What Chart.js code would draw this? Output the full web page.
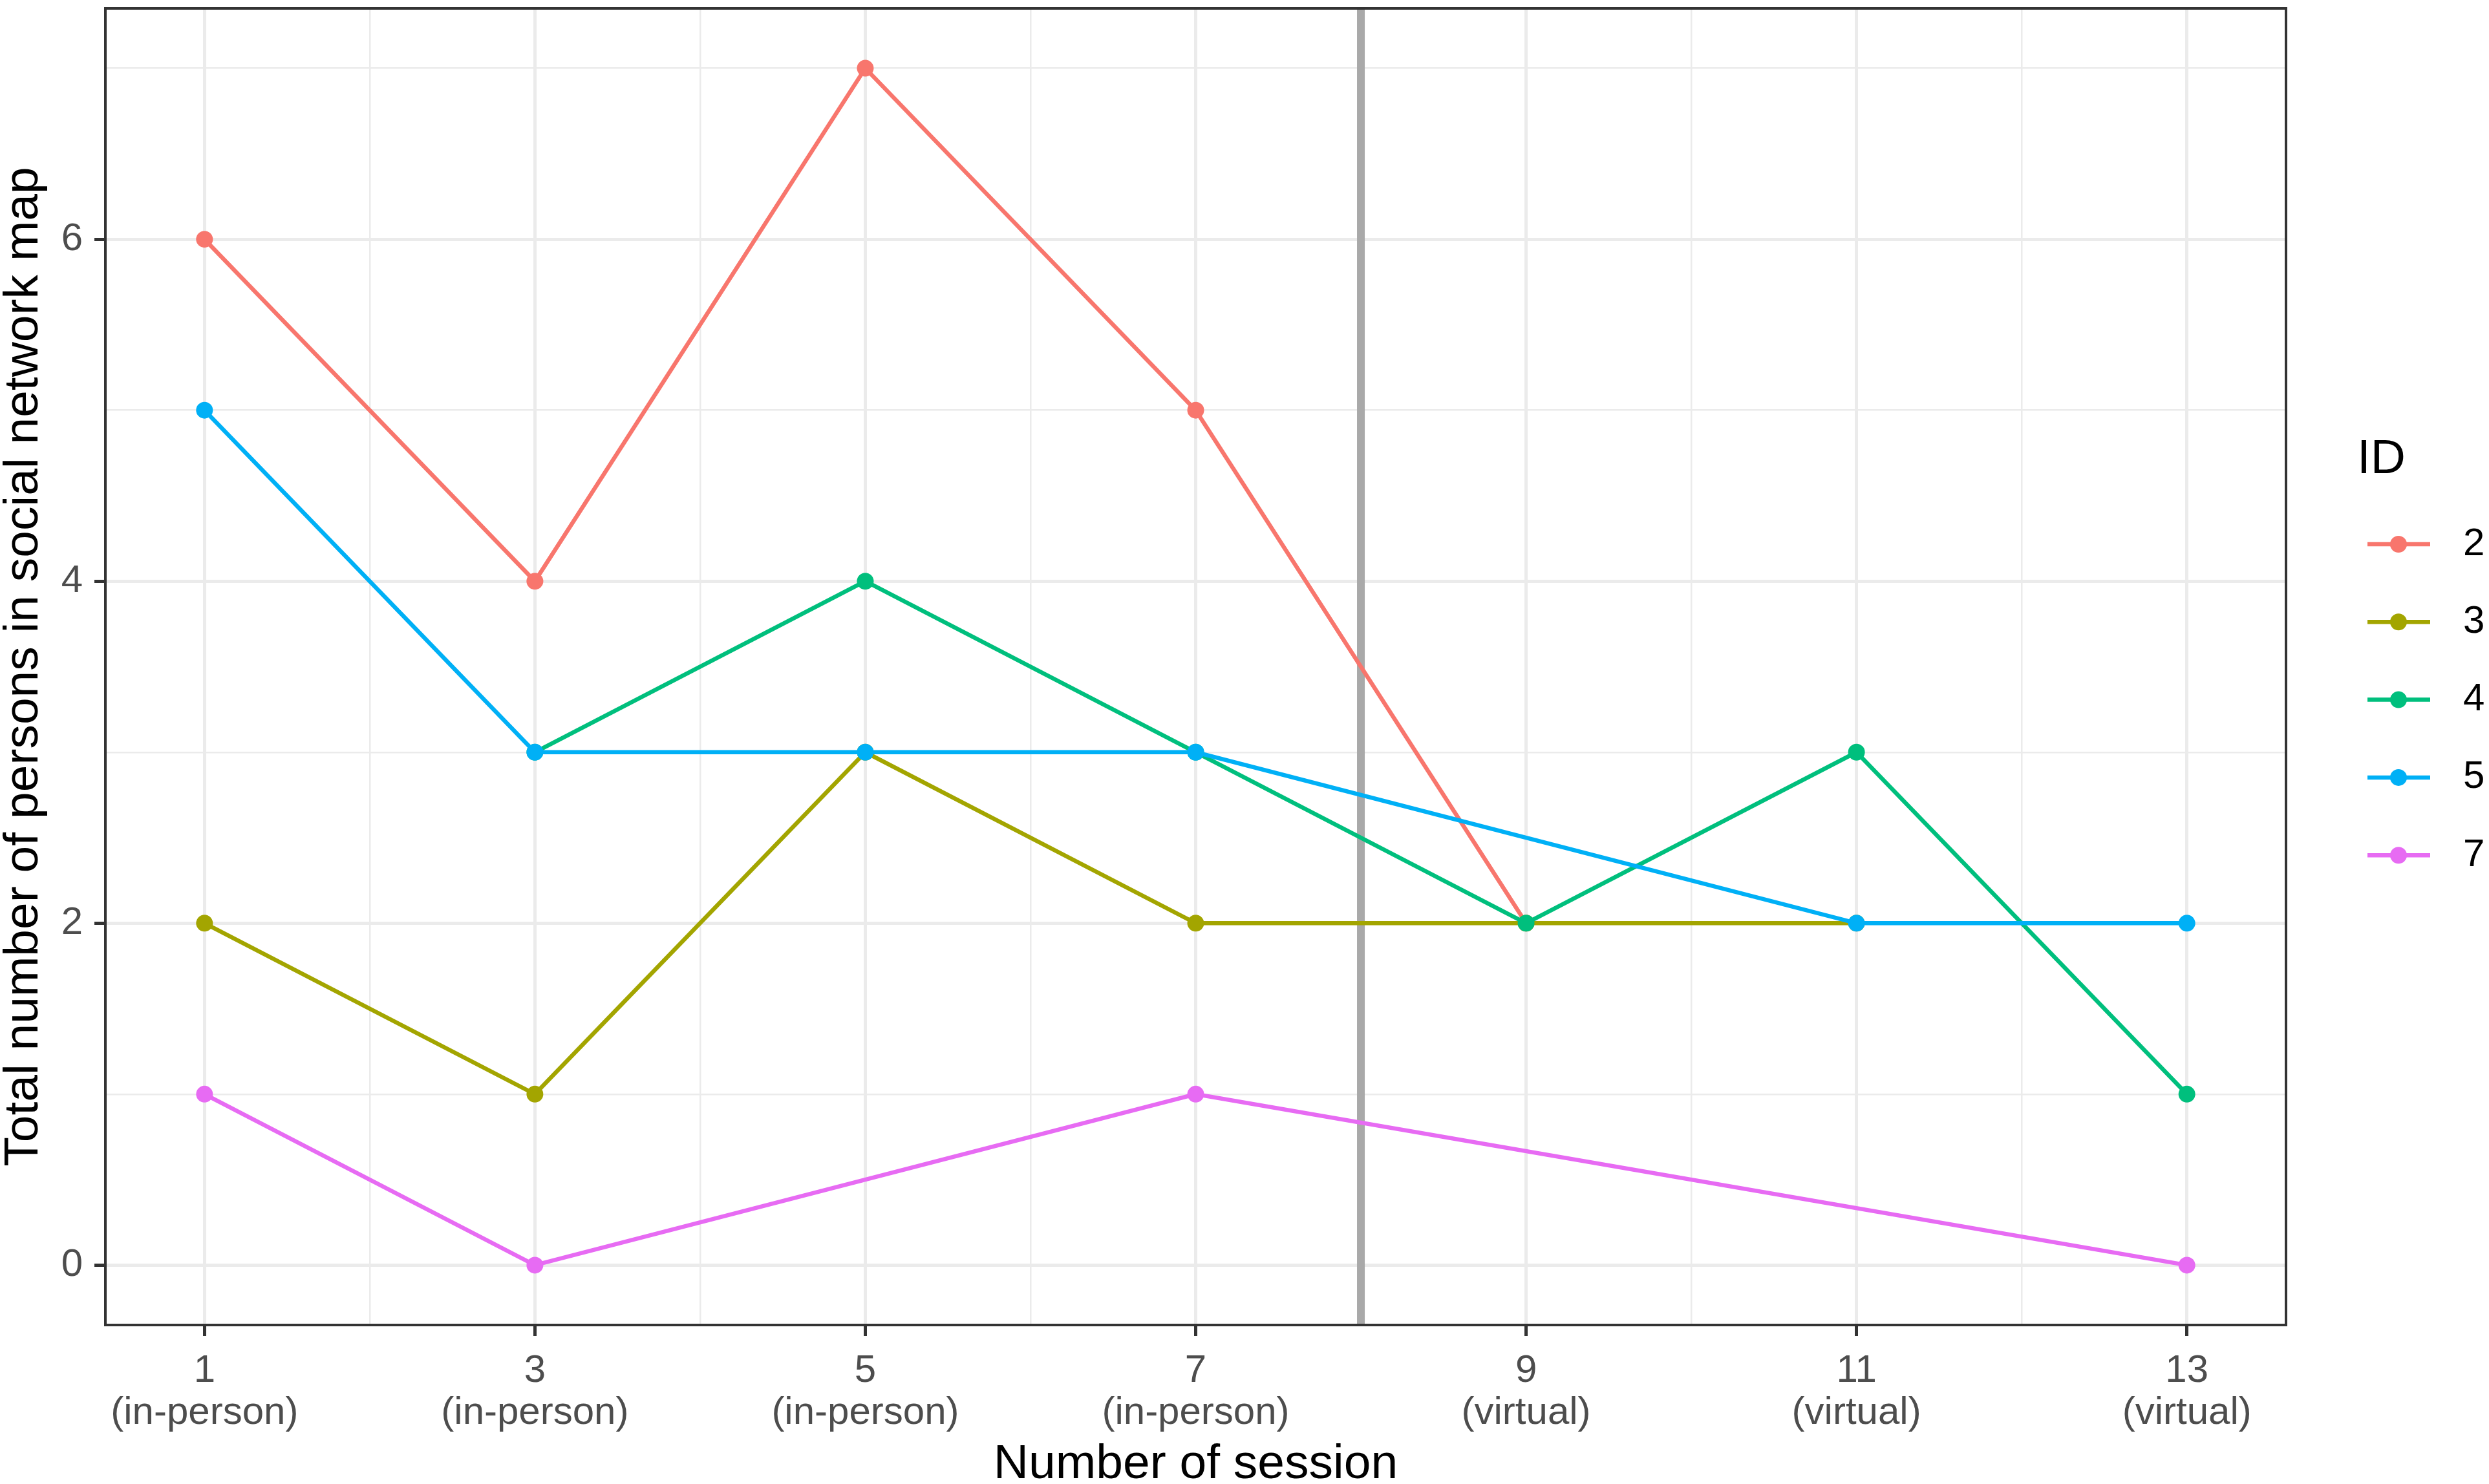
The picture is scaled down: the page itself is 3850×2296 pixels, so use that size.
<!DOCTYPE html>
<html>
<head>
<meta charset="utf-8">
<script src="https://cdn.jsdelivr.net/npm/chart.js@4.4.1/dist/chart.umd.min.js"></script>
<style>
  html, body { margin: 0; padding: 0; background: #fff; }
  canvas { display: block; }
</style>
</head>
<body>
<canvas id="sessionChart" width="3850" height="2296"></canvas>
<script>
const sessions = [1, 3, 5, 7, 9, 11, 13];
const sessionModes = ["in-person", "in-person", "in-person", "in-person", "virtual", "virtual", "virtual"];
const ids = ["2", "3", "4", "5", "7"];
const id2Values = [6, 4, 7, 5, 2, null, null];
const id3Values = [2, 1, 3, 2, 2, 2, null];
const id4Values = [null, 3, 4, 3, 2, 3, 1];
const id5Values = [5, 3, 3, 3, null, 2, 2];
const id7Values = [1, 0, null, 1, null, null, 0];
const yTickValues = [0, 2, 4, 6];
const modeSwitchAt = 8;

const seriesValues = [id2Values, id3Values, id4Values, id5Values, id7Values];
const seriesColors = ["#F8766D", "#A3A500", "#00BF7D", "#00B0F6", "#E76BF3"];

const FONT = "'Liberation Sans', Arial, sans-serif";
Chart.defaults.font.family = FONT;

const datasets = ids.map((id, i) => ({
  label: id,
  data: sessions
    .map((s, j) => ({ x: s, y: seriesValues[i][j] }))
    .filter((p) => p.y !== null),
  borderColor: seriesColors[i],
  backgroundColor: seriesColors[i],
  pointBackgroundColor: seriesColors[i],
  borderWidth: 6.5,
  pointRadius: 13,
  pointBorderWidth: 0,
  tension: 0,
  order: ids.length - 1 - i,
}));

// vertical line marking the switch from in-person to virtual
const switchLine = {
  id: "switchLine",
  beforeDatasetsDraw(chart) {
    const { ctx, chartArea } = chart;
    const x = chart.scales.x.getPixelForValue(modeSwitchAt);
    ctx.save();
    ctx.strokeStyle = "#a9a9a9";
    ctx.lineWidth = 12;
    ctx.beginPath();
    ctx.moveTo(x, chartArea.top);
    ctx.lineTo(x, chartArea.bottom);
    ctx.stroke();
    ctx.restore();
  },
};

// panel border + ggplot style legend
const panelAndLegend = {
  id: "panelAndLegend",
  afterDatasetsDraw(chart) {
    const { ctx, chartArea } = chart;
    ctx.save();
    ctx.strokeStyle = "#333333";
    ctx.lineWidth = 4;
    ctx.strokeRect(chartArea.left, chartArea.top, chartArea.right - chartArea.left, chartArea.bottom - chartArea.top);
    ctx.restore();
  },
  afterDraw(chart) {
    const { ctx, chartArea } = chart;
    const x0 = chartArea.right + 110;
    ctx.save();
    ctx.fillStyle = "#000";
    ctx.textBaseline = "middle";
    ctx.textAlign = "left";
    ctx.font = "75px " + FONT;
    ctx.fillText("ID", x0, 711);
    ctx.font = "60px " + FONT;
    ids.forEach((id, i) => {
      const y = 842 + i * 120.3;
      ctx.strokeStyle = seriesColors[i];
      ctx.lineWidth = 6.5;
      ctx.beginPath();
      ctx.moveTo(x0 + 16, y);
      ctx.lineTo(x0 + 113, y);
      ctx.stroke();
      ctx.fillStyle = seriesColors[i];
      ctx.beginPath();
      ctx.arc(x0 + 64, y, 13, 0, Math.PI * 2);
      ctx.fill();
      ctx.fillStyle = "#000";
      ctx.fillText(id, x0 + 164, y);
    });
    ctx.restore();
  },
};

new Chart(document.getElementById("sessionChart"), {
  type: "line",
  data: { datasets },
  plugins: [switchLine, panelAndLegend],
  options: {
    responsive: false,
    devicePixelRatio: 1,
    animation: false,
    layout: { padding: { left: 0, top: 5, right: 314, bottom: 0 } },
    plugins: { legend: { display: false }, tooltip: { enabled: false } },
    scales: {
      x: {
        type: "linear",
        min: 0.4,
        max: 13.6,
        afterFit: (s) => {
          s.height = 246;
          s.paddingLeft = 0;
          s.paddingRight = 0;
        },
        ticks: {
          stepSize: 1,
          includeBounds: false,
          autoSkip: false,
          maxRotation: 0,
          padding: 22,
          color: "#4D4D4D",
          font: { size: 60, lineHeight: 1.08 },
          callback: (v) => {
            const i = sessions.indexOf(v);
            return i < 0 ? "" : [String(v), "(" + sessionModes[i] + ")"];
          },
        },
        grid: {
          color: "#EBEBEB",
          lineWidth: (c) => (sessions.includes(c.tick.value) ? 5 : 2.5),
          tickLength: 17,
          tickWidth: 5,
          tickColor: (c) => (sessions.includes(c.tick.value) ? "#333333" : "rgba(0,0,0,0)"),
        },
        border: { display: false },
        title: {
          display: true,
          text: "Number of session",
          color: "#000",
          font: { size: 75, lineHeight: 0.8 },
          padding: 0,
        },
      },
      y: {
        min: -0.35,
        max: 7.35,
        afterFit: (s) => {
          s.width = 163;
          s.paddingTop = 0;
          s.paddingBottom = 0;
        },
        ticks: {
          stepSize: 1,
          includeBounds: false,
          padding: 18,
          color: "#4D4D4D",
          font: { size: 60 },
          callback: (v) => (yTickValues.includes(v) ? String(v) : ""),
        },
        grid: {
          color: "#EBEBEB",
          lineWidth: (c) => (yTickValues.includes(c.tick.value) ? 5 : 2.5),
          tickLength: 17,
          tickWidth: 5,
          tickColor: (c) => (yTickValues.includes(c.tick.value) ? "#333333" : "rgba(0,0,0,0)"),
        },
        border: { display: false },
        title: {
          display: true,
          text: "Total number of persons in social network map",
          color: "#000",
          font: { size: 75, lineHeight: 1.0 },
          padding: 0,
        },
      },
    },
  },
});
</script>
</body>
</html>
